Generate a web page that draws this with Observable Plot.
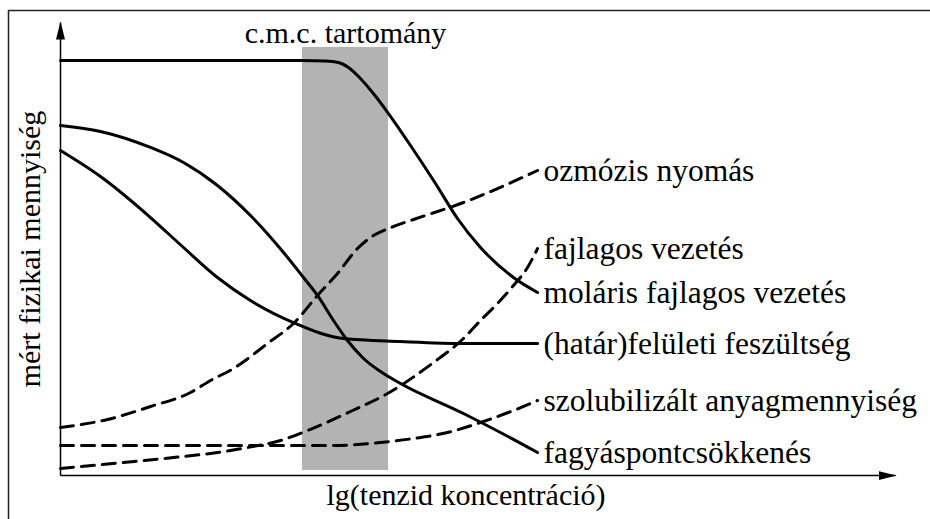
<!DOCTYPE html>
<html><head><meta charset="utf-8">
<script src="https://cdn.jsdelivr.net/npm/d3@7"></script>
<script src="https://cdn.jsdelivr.net/npm/@observablehq/plot@0.6"></script>
<style>html,body{margin:0;background:#fff;overflow:hidden} svg{display:block;overflow:hidden}</style>
</head><body><div id="chart"></div>
<script>
// ---- texts ----
const xLabel = "lg(tenzid koncentráció)";
const yLabel = "mért fizikai mennyiség";
const bandLabel = "c.m.c. tartomány";
const seriesNames = ["ozmózis nyomás", "fajlagos vezetés", "moláris fajlagos vezetés",
  "(határ)felületi feszültség", "szolubilizált anyagmennyiség", "fagyáspontcsökkenés"];

// ---- c.m.c. band (arbitrary units, axis 0..100) ----
const bandX = [28.98, 39.28];
const bandY = [1.1, 94.5];

// ---- curves (arbitrary units 0..100) ----
const ozmX = [0, 5.63, 10.78, 15.57, 17.96, 20.72, 24.79, 27.9, 30.78, 33.17, 35.57, 37.13, 39.88, 42.28, 48.26, 57.13];
const ozmY = [10.6, 12.36, 15.23, 18.32, 20.97, 23.62, 29.14, 33.55, 39.74, 44.59, 50.11, 52.54, 54.97, 56.51, 60.26, 67.33];

const fajX = [0, 7.54, 13.53, 18.8, 22.4, 26.35, 29.58, 34.73, 39.16, 44.67, 48.26, 50.3, 52.34, 54.25, 55.93, 57.13];
const fajY = [1.55, 2.87, 3.97, 5.08, 6.18, 7.73, 9.93, 14.13, 18.1, 24.94, 30.24, 34.22, 37.97, 41.94, 45.92, 50.11];

const molX = [0, 28.74, 31.74, 33.29, 34.49, 35.69, 37.37, 39.28, 41.92, 44.91, 47.54, 50.3, 54.25, 57.13];
const molY = [91.61, 91.61, 91.5, 91.17, 90.07, 88.08, 84.55, 79.91, 72.85, 64.46, 56.73, 50.33, 43.71, 40.4];

const hatX = [0, 4.79, 10.78, 14.73, 18.8, 22.75, 27.9, 33.89, 40.72, 48.26, 57.13];
const hatY = [71.74, 66.0, 56.95, 50.33, 43.71, 38.63, 33.77, 30.24, 29.58, 29.14, 29.14];

const szoX = [0, 22.75, 32.34, 38.32, 42.28, 46.35, 50.3, 54.25, 57.13];
const szoY = [6.62, 6.62, 6.62, 7.28, 8.17, 9.49, 11.7, 14.35, 16.56];

const fagX = [0, 4.79, 10.78, 14.73, 18.8, 22.75, 26.71, 29.1, 30.78, 32.69, 34.37, 36.29, 38.32, 40.72, 48.26, 52.69, 57.13];
const fagY = [77.26, 75.94, 72.41, 69.09, 64.02, 57.4, 49.23, 43.71, 39.74, 34.22, 29.8, 25.83, 22.96, 20.31, 13.69, 9.49, 5.08];

// ---- build tables ----
const curveXs = [ozmX, fajX, molX, hatX, szoX, fagX];
const curveYs = [ozmY, fajY, molY, hatY, szoY, fagY];
const dashedSet = new Set(["ozmózis nyomás", "fajlagos vezetés", "szolubilizált anyagmennyiség"]);

const rows = seriesNames.flatMap((name, i) =>
  curveXs[i].map((x, j) => ({name, x, y: curveYs[i][j], dashed: dashedSet.has(name)})));
const ends = seriesNames.map((name, i) => ({
  name, x: curveXs[i][curveXs[i].length - 1], y: curveYs[i][curveYs[i].length - 1]}));

const xDomain = [0, 100], yDomain = [0, 100];
const font = "Liberation Serif";
const fs = 30;

const chart = Plot.plot({
  width: 930, height: 519,
  marginLeft: 60, marginRight: 35, marginTop: 22, marginBottom: 44,
  x: {domain: xDomain, axis: null},
  y: {domain: yDomain, axis: null},
  marks: [
    // picture border (left and top edges only are visible)
    Plot.ruleX([xDomain[0]], {dx: -52, insetTop: -12, insetBottom: -90, stroke: "#222", strokeWidth: 1.5}),
    Plot.ruleY([yDomain[1]], {dy: -12, insetLeft: -52, insetRight: -80, stroke: "#222", strokeWidth: 1.5}),
    Plot.rect([{x1: bandX[0], x2: bandX[1], y1: bandY[0], y2: bandY[1]}],
      {x1: "x1", x2: "x2", y1: "y1", y2: "y2", fill: "#b3b3b3"}),
    Plot.link([
      {x1: xDomain[0], y1: yDomain[0], x2: xDomain[1], y2: yDomain[0]},
      {x1: xDomain[0], y1: yDomain[0], x2: xDomain[0], y2: yDomain[1]}],
      {x1: "x1", y1: "y1", x2: "x2", y2: "y2", stroke: "#000", strokeWidth: 1.5}),
    Plot.line(rows.filter(d => !d.dashed), {x: "x", y: "y", z: "name", curve: "monotone-x",
      stroke: "#000", strokeWidth: 3}),
    Plot.line(rows.filter(d => d.dashed), {x: "x", y: "y", z: "name", curve: "monotone-x",
      stroke: "#000", strokeWidth: 3, strokeDasharray: "13,8"}),
    Plot.text(ends, {x: "x", y: "y", text: "name", textAnchor: "start", dx: 6,
      fontFamily: font, fontSize: 31.5, fill: "#000"}),
    Plot.text([bandLabel], {x: (bandX[0] + bandX[1]) / 2, y: bandY[1], dy: -14, text: d => d,
      fontFamily: font, fontSize: fs, fill: "#000"}),
    Plot.text([yLabel], {frameAnchor: "left", rotate: -90, dx: -30, textAnchor: "middle", lineAnchor: "middle",
      text: d => d, fontFamily: font, fontSize: fs, fill: "#000"}),
    Plot.text([xLabel], {frameAnchor: "bottom", dy: 20, dx: -12, textAnchor: "middle", lineAnchor: "middle",
      text: d => d, fontFamily: font, fontSize: fs, fill: "#000"})
  ]
});

// filled arrowheads on the axis links
const ns = "http://www.w3.org/2000/svg";
const defs = document.createElementNS(ns, "defs");
const marker = document.createElementNS(ns, "marker");
marker.setAttribute("id", "axhead");
marker.setAttribute("viewBox", "0 0 18 9");
marker.setAttribute("markerUnits", "userSpaceOnUse");
marker.setAttribute("markerWidth", "18");
marker.setAttribute("markerHeight", "9");
marker.setAttribute("refX", "17");
marker.setAttribute("refY", "4.5");
marker.setAttribute("orient", "auto");
const tri = document.createElementNS(ns, "path");
tri.setAttribute("d", "M0,0L18,4.5L0,9Z");
tri.setAttribute("fill", "#000");
marker.appendChild(tri);
defs.appendChild(marker);
chart.insertBefore(defs, chart.firstChild);
chart.querySelectorAll('g[aria-label="link"] path').forEach(p => p.setAttribute("marker-end", "url(#axhead)"));

document.getElementById("chart").appendChild(chart);
</script>
</body></html>
